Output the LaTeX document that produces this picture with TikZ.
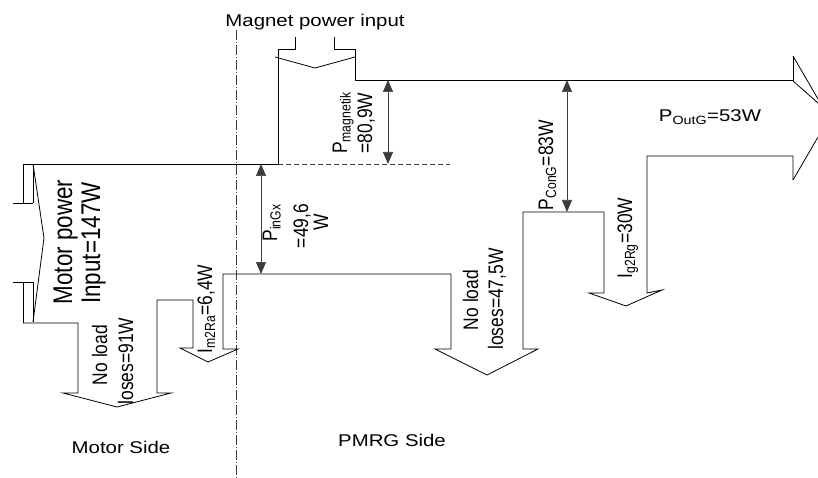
\documentclass[tikz,border=0pt]{standalone}
\usepackage{fontspec}
\setmainfont{Liberation Sans}
\newfontfamily\rotfont[FakeStretch=0.83]{Liberation Sans}
\newfontfamily\horfont[FakeStretch=1.2]{Liberation Sans}
\usetikzlibrary{arrows.meta}

\definecolor{lossgray}{RGB}{60,60,60}

\tikzset{
  flow/.style={line width=0.8pt},
  dimarrow/.style={line width=0.7pt,draw=lossgray,{Triangle[length=12pt,width=10pt]}-{Triangle[length=12pt,width=10pt]}},
  htext/.style={font=\horfont\fontsize{17}{20}\selectfont,anchor=base,inner sep=0pt},
  vtext/.style={font=\rotfont\fontsize{21}{24}\selectfont,rotate=90,anchor=base,inner sep=0pt},
  bigtext/.style={vtext,font=\rotfont\fontsize{27}{30}\selectfont}
}

\begin{document}
\begin{tikzpicture}[x=1pt,y=-1pt,line cap=butt,line join=miter]
  \useasboundingbox (0,0) rectangle (818,478);

  % Trennlinie Motor / PMRG
  \draw[lossgray,line width=0.7pt,dash pattern=on 10pt off 2pt on 1pt off 2pt] (236,30) -- (236,478);

  % Motor Eingang
  \draw[flow] (13,203) -- (33,203);
  \draw[flow] (23,164) -- (23,203);
  \draw[flow] (33,164) -- (33,203);
  \draw[flow] (13,282) -- (33,282);
  \draw[flow] (23,282) -- (23,323);
  \draw[flow] (33,282) -- (33,322);
  \draw[flow] (33,164) -- (44,238) -- (33,322);

  % Motor Leerlaufverluste
  \draw[flow] (23,323) -- (78,323) -- (78,393) -- (63,393) -- (117,407) -- (171,393) -- (157,393) -- (157,300) -- (193,300)
    -- (193,348) -- (180,348) -- (208,362) -- (238,349) -- (223,349) -- (223,274) -- (451,274)
    -- (451,349) -- (435,349) -- (487,375) -- (538,349) -- (523,349) -- (523,212) -- (604,212)
    -- (604,293) -- (589,293) -- (626,306) -- (662,290) -- (647,293) -- (647,156) -- (793,156) -- (793,180);

  % Magnet Eingang
  \draw[flow] (23,164) -- (278,164) -- (278,49) -- (295,49) -- (295,37);
  \draw[flow] (334,37) -- (334,49) -- (355,49) -- (355,80) -- (793,80) -- (793,56);
  \draw[flow] (275,57) -- (315,68) -- (355,57);
  \draw[lossgray,line width=0.7pt,dash pattern=on 5pt off 3pt] (278,164) -- (450,164);

  % Ausgang
  \draw[flow] (793,56) -- (818,99);
  \draw[flow] (793,81) -- (818,103);
  \draw[flow] (793,180) -- (818,137);

  % Leistungspfeile
  \coordinate (magtop) at (388,80);
  \coordinate (magbot) at (388,164);
  \coordinate (ingtop) at (261,164);
  \coordinate (ingbot) at (261,274);
  \coordinate (congtop) at (567,80);
  \coordinate (congbot) at (567,212);
  \draw[dimarrow] (magtop) -- (magbot);
  \draw[dimarrow] (ingtop) -- (ingbot);
  \draw[dimarrow] (congtop) -- (congbot);

  % Beschriftung
  \node[htext] (magin) at (315,27) {Magnet power input};
  \node[htext] (motorside) at (121,453) {Motor Side};
  \node[htext] (pmrgside) at (392,446) {PMRG Side};
  \node[htext] (pout) at (710,122) {P\textsubscript{OutG}=53W};

  \node[bigtext] (motorin) at (72,242) {Motor power};
  \node[bigtext] (motorval) at (100,243) {Input=147W};
  \node[vtext] (noloadm) at (107,355) {No load};
  \node[vtext] (lossm) at (133,361) {loses=91W};
  \node[vtext] (im2ra) at (212,309) {I\textsubscript{m2Ra}=6,4W};
  \node[vtext] (pingx) at (277,223) {P\textsubscript{inGx}};
  \node[vtext] (pingxval) at (308,226) {=49,6};
  \node[vtext] (pingxunit) at (328,222) {W};
  \node[vtext] (pmag) at (347,123) {P\textsubscript{magnetik}};
  \node[vtext] (pmagval) at (372,123) {=80,9W};
  \node[vtext] (pcong) at (553,165) {P\textsubscript{ConG}=83W};
  \node[vtext] (noloadg) at (478,300) {No load};
  \node[vtext] (lossg) at (503,299) {loses=47,5W};
  \node[vtext] (ig2rg) at (632,238) {I\textsubscript{g2Rg}=30W};
\end{tikzpicture}
\end{document}
